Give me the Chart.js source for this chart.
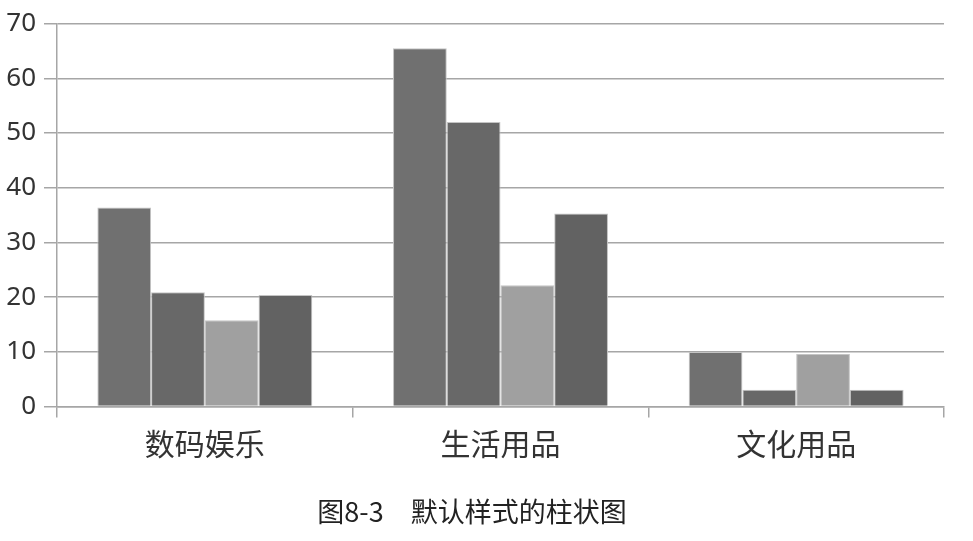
<!DOCTYPE html>
<html>
<head>
<meta charset="utf-8">
<script src="https://cdn.jsdelivr.net/npm/chart.js@4"></script>
<style>
  html, body { margin: 0; padding: 0; background: #fff; }
  #wrap { width: 973px; height: 541px; }
</style>
</head>
<body>
<div id="wrap"><canvas id="c" width="973" height="541"></canvas></div>
<script>
const categories = ['数码娱乐', '生活用品', '文化用品']
const series1 = [36.4, 65.5, 10.0]
const series2 = [20.9, 52.0, 3.1]
const series3 = [15.8, 22.2, 9.6]
const series4 = [20.4, 35.3, 3.1]
const yTicks = [0, 10, 20, 30, 40, 50, 60, 70]
const caption = '图8-3　默认样式的柱状图'

const colors = ['#707070', '#686868', '#a0a0a0', '#626262']
const allSeries = [series1, series2, series3, series4]

const ctx = document.getElementById('c').getContext('2d')
new Chart(ctx, {
    type: 'bar',
    data: {
        labels: categories,
        datasets: allSeries.map((s, i) => {
            return {
                label: '系列' + (i + 1),
                data: s,
                backgroundColor: colors[i],
                borderColor: '#c4c4c4',
                borderWidth: 1,
                barPercentage: 1.0,
                categoryPercentage: 0.727
            }
        })
    },
    options: {
        responsive: false,
        animation: false,
        layout: { padding: { top: 8, right: 29, left: 0, bottom: 13 } },
        plugins: {
            legend: { display: false },
            tooltip: { enabled: false },
            title: {
                display: true,
                text: caption,
                position: 'bottom',
                color: '#222',
                font: { family: '"Noto Sans CJK SC", "Noto Sans"', size: 27, weight: 'normal' },
                padding: { top: 26, bottom: 0 }
            }
        },
        scales: {
            x: {
                grid: {
                    offset: true,
                    drawOnChartArea: false,
                    tickLength: 11,
                    color: '#a6a6a6',
                    lineWidth: 1.5
                },
                border: { color: '#a6a6a6', width: 1.5 },
                ticks: {
                    color: '#333',
                    padding: 8,
                    font: { family: '"Noto Sans CJK SC", "Noto Sans"', size: 30 }
                }
            },
            y: {
                min: 0,
                max: 70,
                afterBuildTicks: (scale) => {
                    scale.ticks = yTicks.map(v => ({ value: v }))
                },
                afterFit: (scale) => { scale.width = 57 },
                grid: {
                    color: '#a6a6a6',
                    lineWidth: 1.5,
                    tickLength: 13
                },
                border: { color: '#a6a6a6', width: 1.5 },
                ticks: {
                    color: '#333',
                    padding: 8,
                    font: { family: '"Noto Sans", sans-serif', size: 26 }
                }
            }
        }
    }
})
</script>
</body>
</html>
